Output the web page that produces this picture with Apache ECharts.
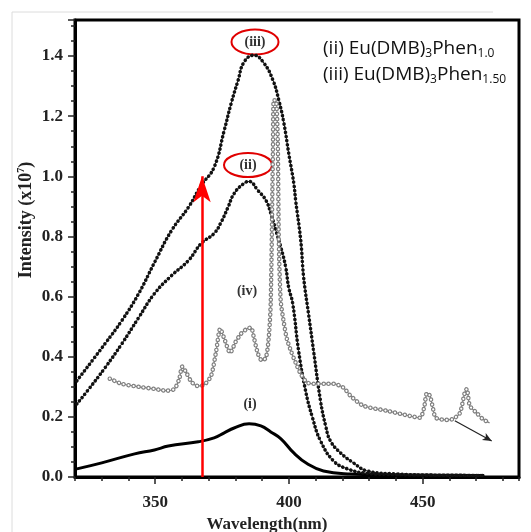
<!DOCTYPE html>
<html>
<head>
<meta charset="utf-8">
<script src="https://cdn.jsdelivr.net/npm/echarts@6/dist/echarts.min.js"></script>
<style>
  html, body { margin: 0; padding: 0; background: #fff; }
  #chart { width: 531px; height: 532px; }
</style>
</head>
<body>
<div id="chart"></div>
<script>
// (i) solid black curve
const wlI = [320.7, 330.0, 342.3, 349.7, 354.9, 366.1, 372.0, 375.8, 379.5, 385.1, 389.5, 393.2, 397.0, 401.8, 407.0, 412.9, 423.0, 440, 473]
const intI = [0.027, 0.047, 0.077, 0.09, 0.103, 0.117, 0.13, 0.147, 0.163, 0.177, 0.17, 0.15, 0.127, 0.08, 0.043, 0.02, 0.01, 0.006, 0.005]

// (ii) Eu(DMB)3Phen1.0
const wlII = [320.7, 325.2, 331.2, 337.5, 343.8, 349.7, 356.1, 362.4, 367.2, 372.0, 374.6, 377.2, 379.5, 383.2, 385.1, 388.4, 391.4, 393.2, 395.1, 397.0, 398.8, 399.9, 401.4, 403.6, 406.2, 408.8, 411.8, 416.7, 421.9, 428.6, 440, 455, 473]
const intII = [0.243, 0.293, 0.363, 0.443, 0.53, 0.61, 0.67, 0.72, 0.777, 0.81, 0.847, 0.897, 0.943, 0.977, 0.983, 0.953, 0.92, 0.877, 0.82, 0.763, 0.697, 0.63, 0.577, 0.42, 0.287, 0.197, 0.12, 0.053, 0.027, 0.013, 0.008, 0.006, 0.005]

// (iii) Eu(DMB)3Phen1.50
const wlIII = [320.7, 331.2, 337.5, 343.8, 349.7, 356.1, 362.4, 367.2, 372.0, 375.8, 378.4, 381.0, 383.2, 386.9, 390.6, 394.0, 396.2, 398.1, 399.9, 401.8, 402.5, 404.4, 405.5, 407.4, 409.2, 411.8, 413.7, 415.5, 419.3, 424.1, 429.3, 440, 455, 473]
const intIII = [0.32, 0.443, 0.52, 0.61, 0.713, 0.82, 0.897, 0.97, 1.03, 1.153, 1.243, 1.32, 1.38, 1.403, 1.377, 1.32, 1.253, 1.177, 1.077, 0.977, 0.92, 0.787, 0.663, 0.537, 0.42, 0.253, 0.17, 0.12, 0.08, 0.047, 0.02, 0.01, 0.006, 0.005]

// (iv) grey open-circle curve
const wlIV = [333.0, 337.5, 343.8, 349.7, 354.2, 357.2, 359.0, 360.1, 361.6, 363.5, 365.7, 368.3, 370.9, 372.8, 374.3, 376.1, 378.0, 379.9, 382.1, 384.3, 385.8, 386.9, 388.4, 389.9, 391.4, 392.5, 393.2, 394.0, 394.3, 395.1, 395.8, 396.2, 396.9, 398.1, 399.2, 400.7, 402.5, 404.4, 407.0, 410.7, 414.4, 416.7, 420.4, 423.0, 427.8, 436.7, 445.3, 449.0, 450.5, 451.6, 452.7, 453.8, 454.9, 459.0, 461.3, 463.9, 465.7, 466.5, 467.6, 470.2, 472.4, 475.0]
const intIV = [0.327, 0.31, 0.30, 0.293, 0.287, 0.293, 0.327, 0.367, 0.347, 0.317, 0.303, 0.307, 0.337, 0.42, 0.493, 0.453, 0.413, 0.447, 0.477, 0.493, 0.497, 0.463, 0.41, 0.387, 0.397, 0.47, 0.587, 1.087, 1.253, 1.253, 1.12, 0.787, 0.587, 0.513, 0.46, 0.42, 0.38, 0.343, 0.313, 0.31, 0.31, 0.31, 0.297, 0.27, 0.237, 0.22, 0.203, 0.197, 0.23, 0.28, 0.27, 0.23, 0.197, 0.19, 0.193, 0.213, 0.28, 0.293, 0.237, 0.213, 0.193, 0.18]

const xLabels = [350, 400, 450]
const yLabels = [0.0, 0.2, 0.4, 0.6, 0.8, 1.0, 1.2, 1.4]

const excitation = 367.5
const pairs = (xs, ys) => xs.map((x, i) => [x, ys[i]])

const serif = '"Liberation Serif", "DejaVu Serif", serif'
const sans = '"Open Sans", sans-serif'
const grey = '#808080'

const curve = (data, lineStyle, smooth = 0.45) => ({
  type: 'line',
  data,
  symbol: 'none',
  smooth,
  silent: true,
  lineStyle,
})
const dots = (color, width, gap) => ({ color, width, type: [0.01, gap], cap: 'round' })

const chart = echarts.init(document.getElementById('chart'), null, { renderer: 'canvas' })

chart.setOption({
  animation: false,
  backgroundColor: '#fff',
  grid: {
    left: 75, right: 12, top: 20, bottom: 55,
    outerBoundsMode: 'none',
    show: true, borderColor: '#000', borderWidth: 3,
  },
  xAxis: [
    {
      type: 'value',
      min: 320,
      max: 486,
      interval: 10,
      axisLine: { lineStyle: { color: '#000', width: 3 } },
      axisTick: { length: 4, lineStyle: { color: '#222', width: 1.5 } },
      splitLine: { show: false },
      axisLabel: {
        margin: 17,
        color: '#222',
        fontFamily: serif,
        fontWeight: 'bold',
        fontSize: 17,
        formatter: (v) => (xLabels.includes(v) ? String(v) : ''),
      },
    },
    {
      type: 'value',
      min: 320,
      max: 486,
      position: 'bottom',
      axisLine: { show: false },
      axisTick: { show: true, length: 7, customValues: xLabels, lineStyle: { color: '#222', width: 1.5 } },
      axisLabel: { show: false },
      splitLine: { show: false },
    },
  ],
  yAxis: {
    type: 'value',
    min: 0,
    max: 1.52,
    interval: 0.2,
    axisLine: { show: true, lineStyle: { color: '#000', width: 3 } },
    axisTick: { show: true, length: 7, lineStyle: { color: '#222', width: 1.5 } },
    minorTick: { show: true, splitNumber: 4, length: 4, lineStyle: { color: '#222', width: 1.5 } },
    splitLine: { show: false },
    axisLabel: {
      margin: 12,
      showMaxLabel: false,
      color: '#222',
      fontFamily: serif,
      fontWeight: 'bold',
      fontSize: 17,
      formatter: (v) => (yLabels.some((y) => Math.abs(y - v) < 1e-6) ? v.toFixed(1) : ''),
    },
  },
  series: [
    {
      ...curve(pairs(wlI, intI), { color: '#000', width: 3 }),
      markLine: {
        silent: true,
        symbol: ['none', 'arrow'],
        symbolSize: [13, 26],
        label: { show: false },
        lineStyle: { color: '#ff0000', width: 2.5, type: 'solid' },
        data: [[{ coord: [excitation, 0] }, { coord: [excitation, 1.0] }]],
      },
    },
    // (ii): thin line + dense dots
    curve(pairs(wlII, intII), { color: '#222', width: 1 }),
    curve(pairs(wlII, intII), dots('#111', 3.6, 4.2)),
    // (iii)
    curve(pairs(wlIII, intIII), { color: '#222', width: 1 }),
    curve(pairs(wlIII, intIII), dots('#111', 3.6, 4.2)),
    // (iv): grey line with open circles
    {
      ...curve(pairs(wlIV, intIV), { color: grey, width: 1.2 }, 0.25),
      markLine: {
        silent: true,
        symbol: ['none', 'arrow'],
        symbolSize: [6, 9],
        label: { show: false },
        lineStyle: { color: '#222', width: 1.2, type: 'solid' },
        data: [[{ coord: [462.0, 0.187] }, { coord: [475.8, 0.12] }]],
      },
    },
    curve(pairs(wlIV, intIV), dots(grey, 4.6, 5), 0.25),
    curve(pairs(wlIV, intIV), dots('#fff', 2.2, 5), 0.25),
  ],
  graphic: [
    // outer image border
    { type: 'line', shape: { x1: 12, y1: 12, x2: 493, y2: 12 }, style: { stroke: '#dcdcdc', lineWidth: 1 } },
    { type: 'line', shape: { x1: 12, y1: 12, x2: 12, y2: 532 }, style: { stroke: '#dcdcdc', lineWidth: 1 } },
    // axis titles
    {
      type: 'text', x: 26, y: 220, rotation: Math.PI / 2,
      style: {
        text: 'Intensity (x10{sup|7})',
        font: 'bold 18px ' + serif, fill: '#222', align: 'center', verticalAlign: 'middle',
        rich: { sup: { fontFamily: serif, fontWeight: 'bold', fontSize: 10, fill: '#222', padding: [0, 0, 9, 0] } },
      },
    },
    {
      type: 'text', x: 267, y: 525,
      style: { text: 'Wavelength(nm)', font: 'bold 17px ' + serif, fill: '#222', align: 'center', verticalAlign: 'middle' },
    },
    // curve labels
    { type: 'text', x: 255, y: 42, style: { text: '(iii)', font: 'bold 14px ' + serif, fill: '#333', align: 'center', verticalAlign: 'middle' } },
    { type: 'text', x: 248, y: 165, style: { text: '(ii)', font: 'bold 14px ' + serif, fill: '#333', align: 'center', verticalAlign: 'middle' } },
    { type: 'text', x: 247, y: 291, style: { text: '(iv)', font: 'bold 14px ' + serif, fill: '#333', align: 'center', verticalAlign: 'middle' } },
    { type: 'text', x: 250, y: 404, style: { text: '(i)', font: 'bold 14px ' + serif, fill: '#333', align: 'center', verticalAlign: 'middle' } },
    // red ellipses
    { type: 'ellipse', shape: { cx: 255, cy: 42, rx: 23.5, ry: 12.5 }, style: { fill: 'none', stroke: '#e00000', lineWidth: 2 } },
    { type: 'ellipse', shape: { cx: 248, cy: 165, rx: 24, ry: 12 }, style: { fill: 'none', stroke: '#e00000', lineWidth: 2 } },
    // legend text
    {
      type: 'text', x: 323, y: 49,
      style: {
        text: '(ii) Eu(DMB){s|3}Phen{s|1.0}',
        font: '19px ' + sans, fill: '#111', verticalAlign: 'middle',
        rich: { s: { fontSize: 12, fontFamily: sans, padding: [10, 0, 0, 0], fill: '#111' } },
      },
    },
    {
      type: 'text', x: 323, y: 75,
      style: {
        text: '(iii) Eu(DMB){s|3}Phen{s|1.50}',
        font: '19px ' + sans, fill: '#111', verticalAlign: 'middle',
        rich: { s: { fontSize: 12, fontFamily: sans, padding: [10, 0, 0, 0], fill: '#111' } },
      },
    },
  ],
})
</script>
</body>
</html>
